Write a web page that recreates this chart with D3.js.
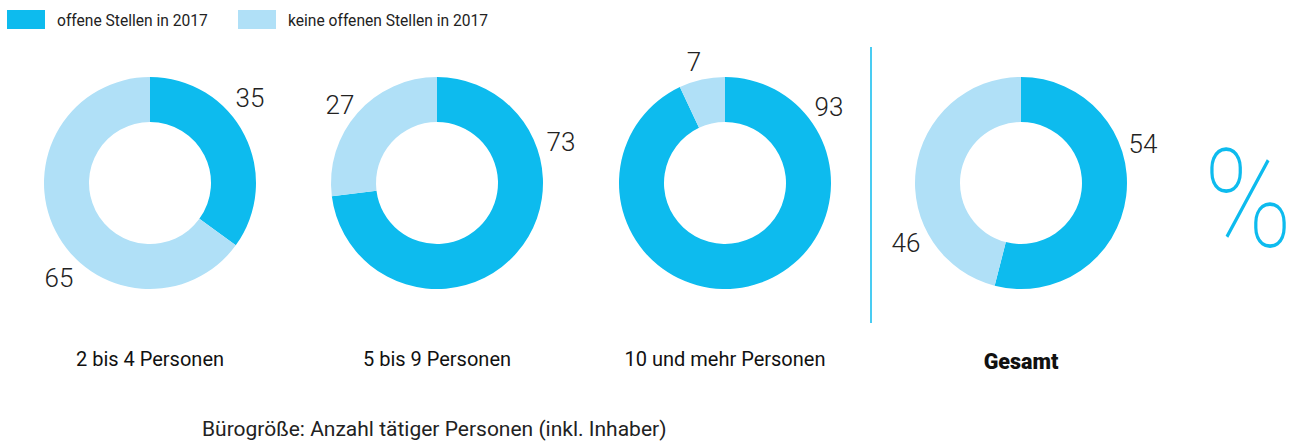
<!DOCTYPE html>
<html>
<head>
<meta charset="utf-8">
<script src="https://cdn.jsdelivr.net/npm/d3@7"></script>
<style>
  html, body { margin: 0; padding: 0; background: #fff; }
  svg { display: block; font-family: Roboto, "DejaVu Sans", sans-serif; }
</style>
</head>
<body>
<svg id="chart" width="1306" height="443"></svg>
<script>
// ---- data ----
const categories = ["2 bis 4 Personen", "5 bis 9 Personen", "10 und mehr Personen", "Gesamt"];
const seriesNames = ["offene Stellen in 2017", "keine offenen Stellen in 2017"];
const offeneStellen = [35, 73, 93, 54];
const keineOffenen = [65, 27, 7, 46];
const footerText = "Bürogröße: Anzahl tätiger Personen (inkl. Inhaber)";
const unitSymbol = "%";

// ---- layout / style ----
const colors = ["#0dbbee", "#b0e0f7"];
const centersX = [150, 437, 725, 1021];
const centerY = 183;
const outerR = 106, innerR = 61;
// label offsets relative to donut centre: [offene, keine]
const labelOffsets = [
  [[100, -85], [-91, 95]],
  [[124, -41], [-97, -78]],
  [[104, -76], [-31, -121]],
  [[122, -39], [-115, 60]]
];

const svg = d3.select("#chart");

// legend
const legend = svg.append("g");
const legendX = [7, 238];
seriesNames.forEach((name, i) => {
  legend.append("rect").attr("x", legendX[i]).attr("y", 10).attr("width", 38).attr("height", 19).attr("fill", colors[i]);
  legend.append("text").attr("x", legendX[i] + 50).attr("y", 25.5)
    .attr("font-size", 15.6).attr("fill", "#222").text(name);
});

const pie = d3.pie().sort(null).value(d => d);
const arc = d3.arc().innerRadius(innerR).outerRadius(outerR);

categories.forEach((cat, i) => {
  const vals = [offeneStellen[i], keineOffenen[i]];
  const g = svg.append("g").attr("transform", `translate(${centersX[i]},${centerY})`);
  g.selectAll("path").data(pie(vals)).join("path")
    .attr("d", arc)
    .attr("fill", (d, j) => colors[j]);
  g.selectAll("text.val").data(vals).join("text")
    .attr("class", "val")
    .attr("x", (d, j) => labelOffsets[i][j][0])
    .attr("y", (d, j) => labelOffsets[i][j][1])
    .attr("text-anchor", "middle")
    .attr("dominant-baseline", "central")
    .attr("font-size", 26)
    .attr("font-weight", 300)
    .attr("fill", "#222")
    .text(d => d);
  const isTotal = i === categories.length - 1;
  svg.append("text")
    .attr("x", centersX[i])
    .attr("y", isTotal ? 369 : 366)
    .attr("text-anchor", "middle")
    .attr("font-size", isTotal ? 21.5 : 20)
    .attr("font-weight", isTotal ? 900 : 400)
    .attr("fill", "#111")
    .text(cat);
});

// separator line
svg.append("line").attr("x1", 871).attr("x2", 871).attr("y1", 47).attr("y2", 323)
  .attr("stroke", colors[0]).attr("stroke-width", 1.5);

// big percent sign
svg.append("text")
  .attr("transform", "translate(1248,247) scale(0.88,1.02)")
  .attr("text-anchor", "middle")
  .attr("font-size", 135)
  .attr("font-weight", 100)
  .attr("fill", colors[0])
  .text(unitSymbol);

// footer
svg.append("text").attr("x", 202).attr("y", 436)
  .attr("font-size", 21).attr("fill", "#222").text(footerText);
</script>
</body>
</html>
